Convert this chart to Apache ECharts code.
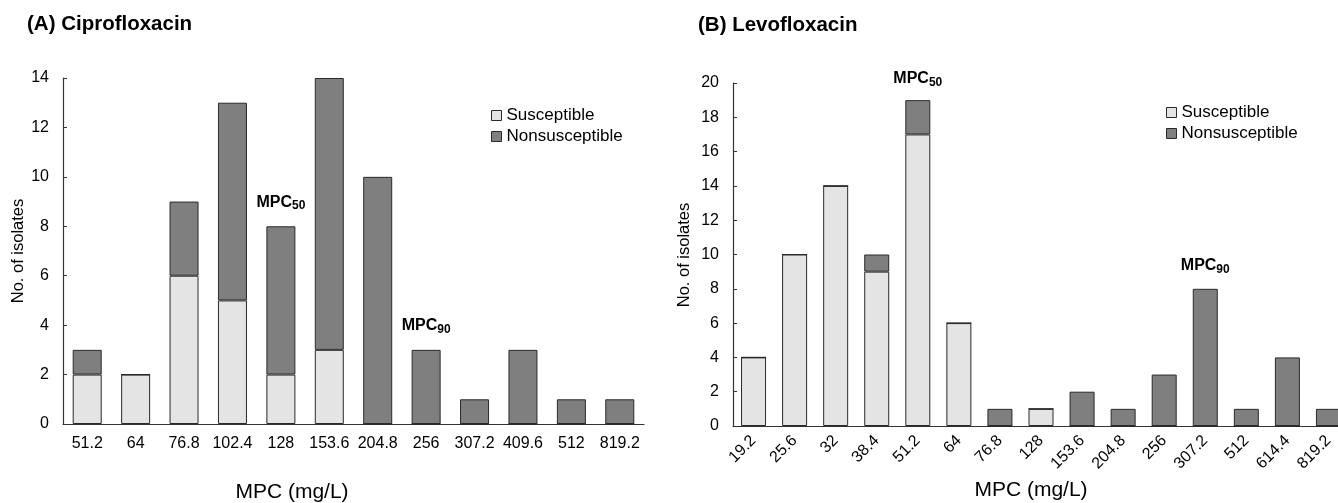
<!DOCTYPE html>
<html>
<head>
<meta charset="utf-8">
<script src="https://cdn.jsdelivr.net/npm/echarts@6/dist/echarts.min.js"></script>
<style>
  html, body { margin: 0; padding: 0; background: #fff; }
  #chart { width: 1338px; height: 503px; }
</style>
</head>
<body>
<div id="chart"></div>
<script>
// (A) Ciprofloxacin
var cipCats = ['51.2', '64', '76.8', '102.4', '128', '153.6', '204.8', '256', '307.2', '409.6', '512', '819.2'];
var cipSus = [2, 2, 6, 5, 2, 3, 0, 0, 0, 0, 0, 0];
var cipNon = [1, 0, 3, 8, 6, 11, 10, 3, 1, 3, 1, 1];
var cipMarks = [['128', 8.8, '50'], ['256', 3.8, '90']];

// (B) Levofloxacin
var levCats = ['19.2', '25.6', '32', '38.4', '51.2', '64', '76.8', '128', '153.6', '204.8', '256', '307.2', '512', '614.4', '819.2'];
var levSus = [4, 10, 14, 9, 17, 6, 0, 1, 0, 0, 0, 0, 0, 0, 0];
var levNon = [0, 0, 0, 1, 2, 0, 1, 0, 2, 1, 3, 8, 1, 4, 1];
var levMarks = [['51.2', 20, '50'], ['307.2', 9.1, '90']];

var FONT = '"Liberation Sans", Arial, sans-serif';
var LIGHT = '#e4e4e4';
var DARK = '#7f7f7f';
var EDGE = '#2a2a2a';

function markData(list) {
  return list.map(function (m) {
    return {
      coord: [m[0], m[1]],
      label: { formatter: '{a|MPC}{b|' + m[2] + '}', offset: [0, -4] }
    };
  });
}

var mpcLabel = {
  show: true,
  position: 'inside',
  rich: {
    a: { fontFamily: FONT, fontSize: 16, fontWeight: 'bold', color: '#000' },
    b: { fontFamily: FONT, fontSize: 12, fontWeight: 'bold', color: '#000', padding: [7, 0, 0, 0] }
  }
};

function catAxis(idx, cats, rotate) {
  return {
    type: 'category',
    gridIndex: idx,
    data: cats,
    axisLine: { lineStyle: { color: '#333', width: 1.2 } },
    axisTick: { show: false },
    axisLabel: {
      color: '#000', fontFamily: FONT, fontSize: 16,
      margin: rotate ? 12 : 12, rotate: rotate, interval: 0
    }
  };
}

function valAxis(idx, max) {
  return {
    type: 'value',
    gridIndex: idx,
    min: 0, max: max, interval: 2,
    splitLine: { show: false },
    axisLine: { show: true, lineStyle: { color: '#333', width: 1.2 } },
    axisTick: { show: true, inside: true, length: 4, lineStyle: { color: '#333' } },
    axisLabel: { color: '#000', fontFamily: FONT, fontSize: 16, margin: 14 }
  };
}

function barSeries(name, idx, data, color, width, marks) {
  var s = {
    name: name,
    type: 'bar',
    xAxisIndex: idx,
    yAxisIndex: idx,
    stack: 'g' + idx,
    barWidth: width,
    data: data,
    itemStyle: { color: color, borderColor: EDGE, borderWidth: 1 },
    emphasis: { disabled: true },
    animation: false
  };
  if (marks) {
    s.markPoint = {
      symbol: 'rect',
      symbolSize: 1,
      itemStyle: { color: 'rgba(0,0,0,0)' },
      label: mpcLabel,
      data: markData(marks)
    };
  }
  return s;
}

function legendAt(left, top) {
  return {
    left: left, top: top,
    orient: 'vertical',
    itemWidth: 10, itemHeight: 10, itemGap: 4,
    icon: 'rect',
    padding: 0,
    itemStyle: { borderColor: EDGE, borderWidth: 1 },
    textStyle: { color: '#000', fontFamily: FONT, fontSize: 17 },
    data: ['Susceptible', 'Nonsusceptible'],
    selectedMode: false
  };
}

function textAt(x, y, text, size, rot) {
  return {
    type: 'text', x: x, y: y, rotation: rot || 0,
    style: {
      text: text, fill: '#000', font: size + 'px ' + FONT,
      textAlign: 'center', textVerticalAlign: 'middle'
    }
  };
}

var chart = echarts.init(document.getElementById('chart'));
chart.setOption({
  animation: false,
  title: [
    { text: '(A) Ciprofloxacin', left: 27, top: 14, padding: 0,
      textStyle: { fontFamily: FONT, fontSize: 20.5, fontWeight: 'bold', color: '#000' } },
    { text: '(B) Levofloxacin', left: 698, top: 15, padding: 0,
      textStyle: { fontFamily: FONT, fontSize: 20.5, fontWeight: 'bold', color: '#000' } }
  ],
  legend: [legendAt(491, 107), legendAt(1166, 104)],
  grid: [
    { left: 63, top: 78, width: 581, height: 346, outerBoundsMode: 'none' },
    { left: 733, top: 83, width: 616, height: 343, outerBoundsMode: 'none' }
  ],
  xAxis: [catAxis(0, cipCats, 0), catAxis(1, levCats, 45)],
  yAxis: [valAxis(0, 14), valAxis(1, 20)],
  series: [
    barSeries('Susceptible', 0, cipSus, LIGHT, 29),
    barSeries('Nonsusceptible', 0, cipNon, DARK, 29, cipMarks),
    barSeries('Susceptible', 1, levSus, LIGHT, 25),
    barSeries('Nonsusceptible', 1, levNon, DARK, 25, levMarks)
  ],
  graphic: [
    textAt(292, 492, 'MPC (mg/L)', 21),
    textAt(1031, 490, 'MPC (mg/L)', 21),
    textAt(18, 251, 'No. of isolates', 16.5, Math.PI / 2),
    textAt(684, 255, 'No. of isolates', 16.5, Math.PI / 2)
  ]
});
</script>
</body>
</html>
